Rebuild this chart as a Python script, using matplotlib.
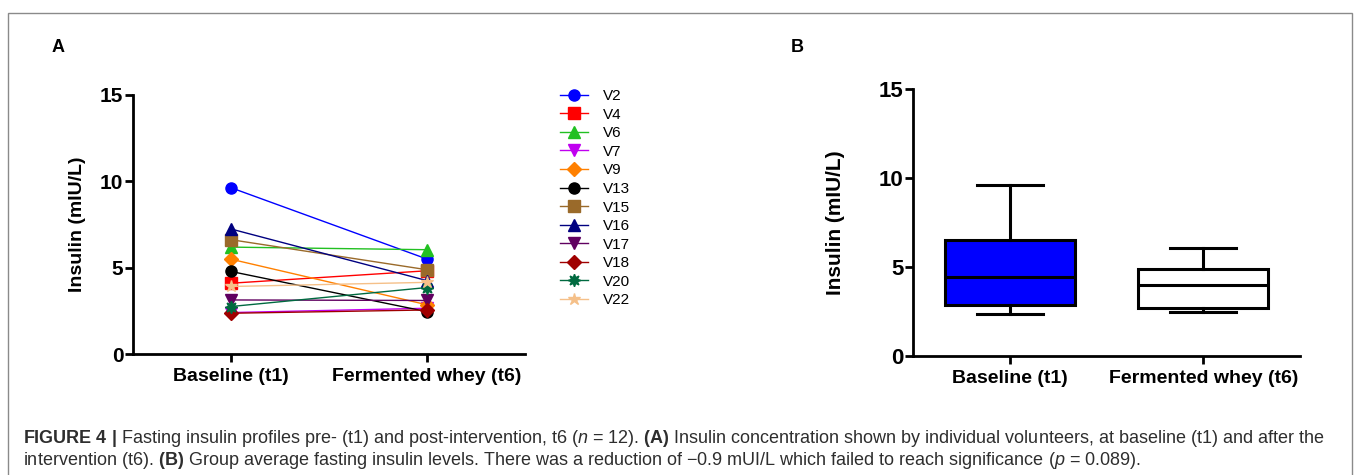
import numpy as np
import matplotlib
matplotlib.use("Agg")
import matplotlib.pyplot as plt
from matplotlib.patches import Rectangle

plt.rcParams["font.family"] = ["Liberation Sans", "DejaVu Sans"]
plt.rcParams["mathtext.fontset"] = "custom"
plt.rcParams["mathtext.rm"] = "Liberation Sans"
plt.rcParams["mathtext.bf"] = "Liberation Sans:bold"
plt.rcParams["mathtext.it"] = "Liberation Sans:italic"

# %%
# data
groups = ["Baseline (t1)", "Fermented whey (t6)"]
volunteers = ["V2", "V4", "V6", "V7", "V9", "V13", "V15", "V16", "V17", "V18", "V20", "V22"]
baseline = [9.63, 4.10, 6.19, 2.40, 5.49, 4.78, 6.62, 7.24, 3.13, 2.36, 2.75, 3.91]
fermented = [5.50, 4.82, 6.04, 2.65, 2.85, 2.45, 4.88, 4.25, 3.10, 2.55, 3.85, 4.15]
yticks = [0, 5, 10, 15]

colors = ["#0000ff", "#ff0000", "#22c022", "#c000f0", "#ff8000", "#000000",
          "#9a6a2a", "#000080", "#600060", "#a00000", "#006a40", "#f5c089"]
markers = ["o", "s", "^", "v", "D", "o", "s", "^", "v", "D", (8, 1, 0), "*"]
msizes = [8, 8, 8, 8, 7, 8, 8, 8, 8, 7, 9, 9]

W, H = 1358, 475
fig = plt.figure(figsize=(W / 100, H / 100), dpi=100)


def style_axes(ax, ylab_x, ysize):
    ax.set_xlim(-0.5, 1.5)
    ax.set_ylim(0, 15)
    ax.set_yticks(yticks)
    ax.set_xticks([0, 1])
    ax.set_xticklabels(groups)
    for s in ["top", "right"]:
        ax.spines[s].set_visible(False)
    for s in ["left", "bottom"]:
        ax.spines[s].set_linewidth(2)
    ax.tick_params(direction="out", length=6, width=2, colors="black")
    ax.tick_params(axis="y", labelsize=ysize, pad=1)
    ax.tick_params(axis="x", labelsize=14, pad=4)
    for lbl in ax.get_xticklabels() + ax.get_yticklabels():
        lbl.set_fontweight("bold")
    ax.set_ylabel("Insulin (mIU/L)", fontsize=ysize - 1, fontweight="bold")
    ax.yaxis.set_label_coords(ylab_x, 0.5)


# %%
## A: individual volunteers
axA = fig.add_axes([133 / W, 1 - 354 / H, (525 - 133) / W, (354 - 95) / H])
for i, name in enumerate(volunteers):
    axA.plot([0, 1], [baseline[i], fermented[i]], color=colors[i], lw=1,
             marker=markers[i], markersize=msizes[i], label=name, clip_on=False)
style_axes(axA, -0.12, 15)
axA.legend(loc="upper left", bbox_to_anchor=(560 / W, 1 - 89 / H),
           bbox_transform=fig.transFigure, frameon=False, fontsize=11,
           handlelength=1.85, handletextpad=0.95, labelspacing=0.3,
           borderpad=0, borderaxespad=0)

# %%
## B: group box plot
axB = fig.add_axes([913 / W, 1 - 356 / H, (1300 - 913) / W, (356 - 89) / H])
stats = []
for label, vals in zip(groups, [baseline, fermented]):
    q1, med, q3 = np.percentile(vals, [25, 50, 75], method="weibull")
    stats.append(dict(label=label, med=med, q1=q1, q3=q3,
                      whislo=min(vals), whishi=max(vals), fliers=[]))
bp = axB.bxp(stats, positions=[0, 1], widths=0.67, capwidths=0.34,
             patch_artist=True, showfliers=False,
             boxprops=dict(linewidth=2.2, edgecolor="black"),
             medianprops=dict(color="black", linewidth=2.2),
             whiskerprops=dict(color="black", linewidth=2.2),
             capprops=dict(color="black", linewidth=2.2))
bp["boxes"][0].set_facecolor("#0000ff")
bp["boxes"][1].set_facecolor("white")
style_axes(axB, -0.175, 16)

# %%
## panel letters, frame and caption
fig.text(58 / W, 1 - 48 / H, "A", fontsize=13, fontweight="bold", ha="center", va="center")
fig.text(797 / W, 1 - 48 / H, "B", fontsize=13, fontweight="bold", ha="center", va="center")
fig.patches.append(Rectangle((8 / W, -0.1), (1352 - 8) / W, 1.1 - 13 / H,
                             transform=fig.transFigure, fill=False,
                             edgecolor="#8a8a8a", linewidth=1))

line1 = (r"$\mathbf{FIGURE\ 4\ |}$ Fasting insulin profiles pre- (t1) and post-intervention, "
         r"t6 ($\mathit{n}$ = 12). $\mathbf{(A)}$ Insulin concentration shown by individual "
         r"volunteers, at baseline (t1) and after the")
line2 = (r"intervention (t6). $\mathbf{(B)}$ Group average fasting insulin levels. There was a "
         r"reduction of −0.9 mUI/L which failed to reach significance ($\mathit{p}$ = 0.089).")
t1 = fig.text(23 / W, 1 - 443 / H, line1, fontsize=12, color="#2e2e2e", va="baseline")
t2 = fig.text(23 / W, 1 - 465 / H, line2, fontsize=12, color="#2e2e2e", va="baseline")
renderer = fig.canvas.get_renderer()
scale = (1320 - 23) / t1.get_window_extent(renderer).width
t1.set_fontsize(12 * scale)
t2.set_fontsize(12 * scale)

fig.savefig("out.png", dpi=100)
